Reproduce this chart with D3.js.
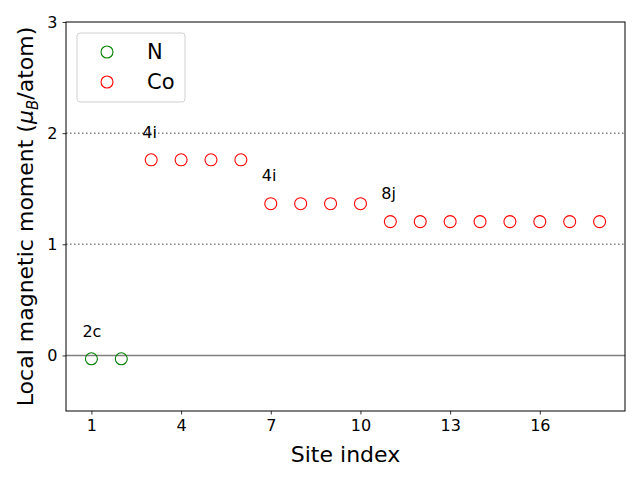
<!DOCTYPE html>
<html><head><meta charset="utf-8">
<script src="https://cdn.jsdelivr.net/npm/d3@7"></script>
<style>body{margin:0;background:#fff}text{font-family:"DejaVu Sans",sans-serif}</style>
</head><body><svg id="c" width="640" height="480"></svg>
<script>
const nSites = [1, 2];
const nValues = [-0.03, -0.03];
const coSites = [3,4,5,6,7,8,9,10,11,12,13,14,15,16,17,18];
const coValues = [1.76,1.76,1.76,1.76,1.365,1.365,1.365,1.365,1.204,1.204,1.204,1.204,1.204,1.204,1.204,1.204];
const xTicks = [1,4,7,10,13,16];
const yTicks = [0,1,2,3];
const annotations = [{site:1,value:-0.03,label:"2c"},{site:3,value:1.76,label:"4i"},{site:7,value:1.365,label:"4i"},{site:11,value:1.204,label:"8j"}];
const refLines = [1,2];

const svg = d3.select("#c");
const L=66,R=625,T=22,B=411;
const x = d3.scaleLinear().domain([0.15,18.85]).range([L,R]);
const y = d3.scaleLinear().domain([-0.5,3]).range([B,T]);

// reference lines
svg.selectAll(".ref").data(refLines).enter().append("line")
 .attr("x1",L).attr("x2",R).attr("y1",d=>y(d)).attr("y2",d=>y(d))
 .attr("stroke","#808080").attr("stroke-width",1.5).attr("stroke-dasharray","1.5,2.5");
svg.append("line").attr("x1",L).attr("x2",R).attr("y1",y(0)).attr("y2",y(0))
 .attr("stroke","#808080").attr("stroke-width",1.5);

// points
svg.selectAll(".n").data(nSites).enter().append("circle")
 .attr("cx",d=>x(d)).attr("cy",(d,i)=>y(nValues[i])).attr("r",6)
 .attr("fill","none").attr("stroke","green").attr("stroke-width",1.1);
svg.selectAll(".co").data(coSites).enter().append("circle")
 .attr("cx",d=>x(d)).attr("cy",(d,i)=>y(coValues[i])).attr("r",6)
 .attr("fill","none").attr("stroke","red").attr("stroke-width",1.1);

// annotations
svg.selectAll(".ann").data(annotations).enter().append("text")
 .attr("x",d=>x(d.site-0.3)).attr("y",d=>y(d.value+0.2))
 .attr("font-size",16).attr("fill","#000").text(d=>d.label);

// axes
const xa = svg.append("g").attr("transform",`translate(0,${B})`)
 .call(d3.axisBottom(x).tickValues(xTicks).tickSize(3.5).tickPadding(5));
const ya = svg.append("g").attr("transform",`translate(${L},0)`)
 .call(d3.axisLeft(y).tickValues(yTicks).tickFormat(d3.format("d")).tickSize(3.5).tickPadding(5));
[xa,ya].forEach(a=>{a.select(".domain").remove();a.selectAll("text").attr("font-size",16).attr("font-family","DejaVu Sans").attr("fill","#000");a.selectAll("line").attr("stroke","#000").attr("stroke-width",0.8);});
svg.append("rect").attr("x",L).attr("y",T).attr("width",R-L).attr("height",B-T)
 .attr("fill","none").attr("stroke","#000").attr("stroke-width",1);

// axis labels
svg.append("text").attr("x",(L+R)/2).attr("y",462).attr("text-anchor","middle")
 .attr("font-size",22).text("Site index");
const yl = svg.append("text").attr("transform",`translate(33,${(T+B)/2}) rotate(-90)`)
 .attr("text-anchor","middle").attr("font-size",22);
yl.append("tspan").text("Local magnetic moment (");
yl.append("tspan").attr("font-style","italic").text("μ");
yl.append("tspan").attr("font-style","italic").attr("font-size",15).attr("dy",5).text("B");
yl.append("tspan").attr("dy",-5).text("/atom)");

// legend
const lg = svg.append("g");
lg.append("rect").attr("x",77).attr("y",33).attr("width",108).attr("height",69).attr("rx",3)
 .attr("fill","#fff").attr("stroke","#d0d0d0").attr("stroke-width",1);
const items=[{label:"N",color:"green"},{label:"Co",color:"red"}];
items.forEach((it,i)=>{
 lg.append("circle").attr("cx",107).attr("cy",52+i*30).attr("r",6).attr("fill","none").attr("stroke",it.color).attr("stroke-width",1.1);
 lg.append("text").attr("x",147).attr("y",59+i*30).attr("font-size",21).text(it.label);
});
</script></body></html>
